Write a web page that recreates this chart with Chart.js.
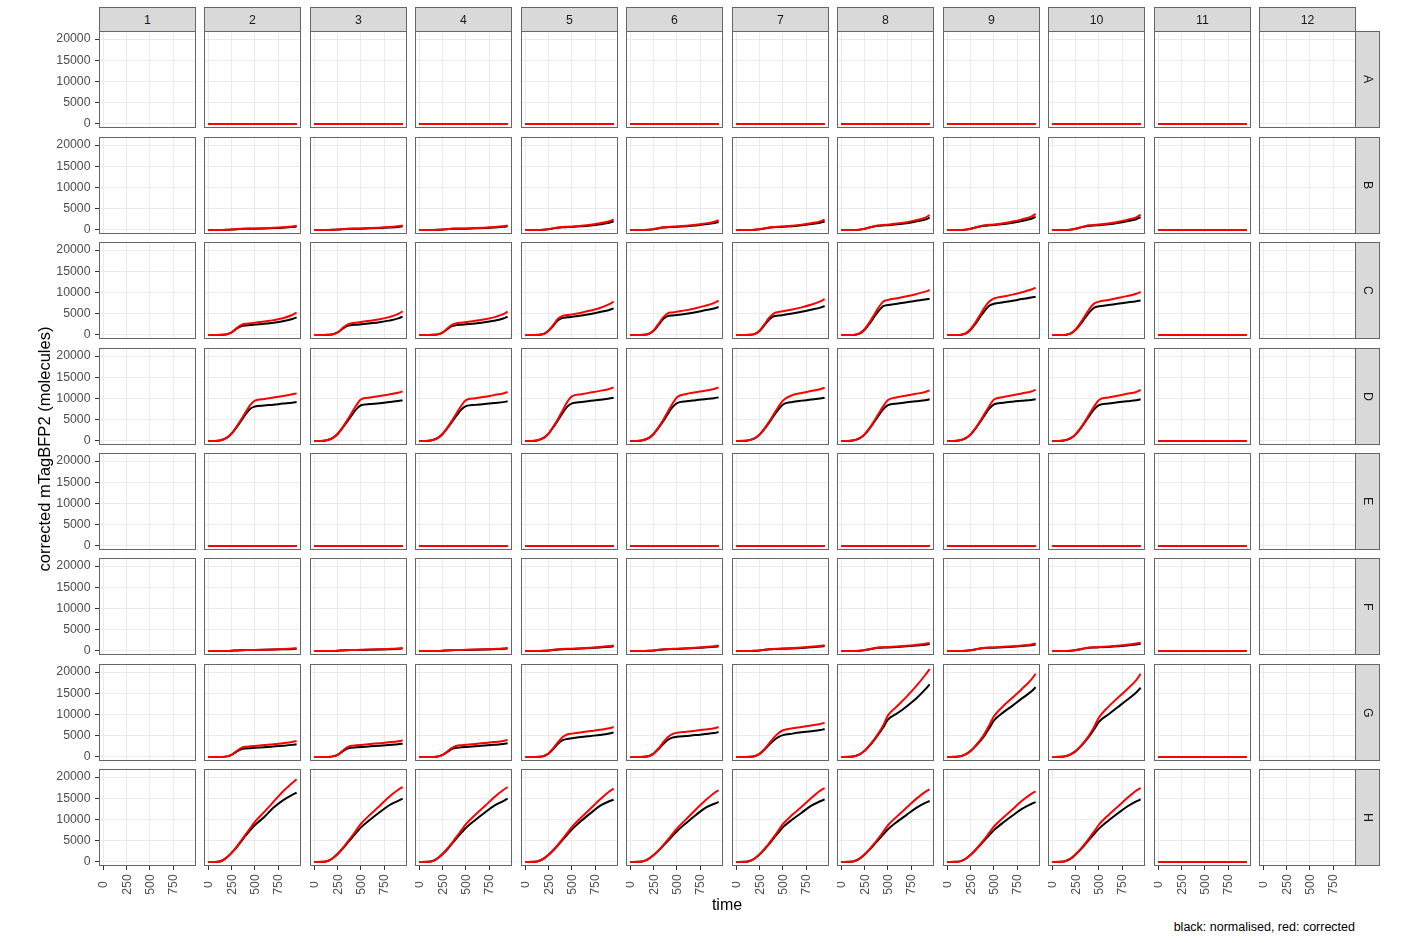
<!DOCTYPE html>
<html>
<head>
<meta charset="utf-8">
<script src="https://cdn.jsdelivr.net/npm/chart.js@4.4.1/dist/chart.umd.min.js"></script>
<style>
  body { margin: 0; background: #fff; width: 1416px; height: 943px; position: relative; overflow: hidden;
         font-family: "Liberation Sans", Arial, sans-serif; }
  canvas { position: absolute; }
  .strip { position: absolute; box-sizing: border-box; background: #D9D9D9; border: 1px solid #666;
           color: #1A1A1A; font-size: 12.3px; display: flex; align-items: center; justify-content: center; }
  .strip.row span { writing-mode: vertical-rl; }
  .label { position: absolute; color: #000; white-space: nowrap; z-index: 2; }
</style>
</head>
<body>
<script>
// time points (x) shared by every well
const times = [0, 100, 150, 200, 250, 300, 350, 400, 450, 500, 600, 700, 800, 900, 947];
const colLabels = ['1', '2', '3', '4', '5', '6', '7', '8', '9', '10', '11', '12'];
const rowLabels = ['A', 'B', 'C', 'D', 'E', 'F', 'G', 'H'];
const timeTicks = [0, 250, 500, 750];
const valueTicks = [0, 5000, 10000, 15000, 20000];

// wells that stay at the baseline
const flatNormalised = [0, 0, 0, 0, 0, 0, 0, 0, 0, 0, 0, 0, 0, 0, 0];
const flatCorrected = [0, 0, 0, 0, 0, 0, 0, 0, 0, 0, 0, 0, 0, 0, 0];

// one entry per column 1..12 (null = empty well)
const normA = [null, flatNormalised, flatNormalised, flatNormalised, flatNormalised, flatNormalised,
  flatNormalised, flatNormalised, flatNormalised, flatNormalised, flatNormalised, null];
const corrA = [null, flatCorrected, flatCorrected, flatCorrected, flatCorrected, flatCorrected,
  flatCorrected, flatCorrected, flatCorrected, flatCorrected, flatCorrected, null];

const normB = [null,
  [0, 0, 5, 28, 90, 180, 250, 275, 290, 305, 360, 440, 540, 690, 800],
  [0, 0, 5, 28, 90, 190, 260, 285, 300, 320, 380, 460, 570, 730, 870],
  [0, 0, 5, 28, 90, 190, 265, 290, 305, 320, 385, 470, 580, 740, 880],
  [0, 0, 10, 55, 185, 380, 540, 630, 680, 730, 880, 1080, 1360, 1720, 2050],
  [0, 0, 10, 55, 185, 390, 560, 650, 700, 750, 880, 1060, 1320, 1640, 1900],
  [0, 0, 10, 50, 175, 370, 550, 650, 710, 760, 900, 1100, 1380, 1720, 2000],
  [0, 0, 15, 85, 280, 580, 830, 980, 1060, 1120, 1320, 1600, 1980, 2450, 2900],
  [0, 0, 15, 85, 280, 580, 840, 1010, 1100, 1170, 1390, 1710, 2130, 2640, 3100],
  [0, 0, 15, 85, 280, 580, 840, 1000, 1080, 1140, 1350, 1650, 2050, 2530, 3000],
  flatNormalised, null];
const corrB = [null,
  [0, 0, 5, 30, 100, 200, 280, 310, 330, 350, 420, 520, 650, 840, 1000],
  [0, 0, 5, 30, 100, 210, 290, 320, 340, 365, 440, 540, 680, 880, 1050],
  [0, 0, 5, 30, 100, 210, 300, 330, 350, 370, 440, 550, 690, 890, 1050],
  [0, 0, 10, 60, 200, 420, 600, 700, 760, 820, 1000, 1250, 1600, 2050, 2500],
  [0, 0, 10, 60, 200, 420, 620, 720, 780, 840, 1000, 1220, 1530, 1920, 2300],
  [0, 0, 10, 55, 190, 400, 600, 720, 790, 850, 1020, 1260, 1600, 2020, 2450],
  [0, 0, 15, 90, 300, 620, 900, 1080, 1180, 1250, 1500, 1850, 2300, 2900, 3500],
  [0, 0, 15, 90, 300, 620, 900, 1100, 1220, 1300, 1580, 1980, 2500, 3150, 3800],
  [0, 0, 15, 90, 300, 620, 900, 1100, 1200, 1270, 1530, 1900, 2380, 2980, 3600],
  flatCorrected, null];

const normC = [null,
  [0, 0, 30, 170, 600, 1400, 2050, 2260, 2340, 2450, 2650, 2900, 3250, 3750, 4150],
  [0, 0, 30, 160, 590, 1420, 2100, 2330, 2420, 2530, 2750, 3000, 3380, 3900, 4310],
  [0, 0, 30, 150, 570, 1390, 2080, 2320, 2410, 2520, 2730, 2980, 3360, 3880, 4310],
  [0, 0, 40, 280, 980, 2200, 3450, 4020, 4150, 4280, 4600, 4950, 5400, 5900, 6270],
  [0, 0, 40, 280, 1000, 2300, 3700, 4450, 4580, 4700, 5000, 5350, 5800, 6250, 6590],
  [0, 0, 40, 260, 960, 2250, 3600, 4400, 4560, 4700, 5050, 5450, 5950, 6450, 6820],
  [0, 0, 70, 400, 1250, 2600, 4200, 5700, 6800, 7050, 7350, 7700, 8050, 8350, 8550],
  [0, 0, 70, 400, 1250, 2600, 4200, 5700, 6900, 7350, 7700, 8050, 8450, 8800, 9020],
  [0, 0, 70, 380, 1200, 2500, 4000, 5450, 6450, 6750, 7050, 7350, 7650, 7950, 8150],
  flatNormalised, null];
const corrC = [null,
  [0, 0, 30, 180, 650, 1560, 2340, 2650, 2760, 2900, 3180, 3500, 3950, 4700, 5250],
  [0, 0, 30, 170, 640, 1560, 2400, 2780, 2900, 3050, 3350, 3700, 4200, 4950, 5570],
  [0, 0, 30, 160, 620, 1520, 2380, 2780, 2900, 3040, 3330, 3680, 4150, 4900, 5490],
  [0, 0, 40, 300, 1050, 2400, 3800, 4500, 4680, 4850, 5250, 5750, 6350, 7250, 7840],
  [0, 0, 40, 300, 1100, 2550, 4100, 5100, 5300, 5480, 5850, 6300, 6850, 7550, 8080],
  [0, 0, 40, 280, 1050, 2500, 4000, 5050, 5400, 5580, 6000, 6500, 7100, 7900, 8470],
  [0, 0, 80, 450, 1400, 2900, 4700, 6500, 7900, 8250, 8650, 9100, 9600, 10200, 10580],
  [0, 0, 80, 450, 1400, 2900, 4700, 6500, 7900, 8600, 9050, 9500, 10050, 10700, 11130],
  [0, 0, 80, 430, 1350, 2800, 4500, 6200, 7450, 7850, 8250, 8700, 9150, 9700, 10110],
  flatCorrected, null];

const normD = [null,
  [0, 60, 300, 780, 1750, 3150, 4700, 6300, 7600, 8100, 8350, 8550, 8800, 9000, 9170],
  [0, 50, 280, 730, 1650, 3000, 4500, 6000, 7500, 8400, 8700, 8900, 9150, 9400, 9560],
  [0, 50, 280, 730, 1650, 3000, 4500, 6000, 7400, 8200, 8500, 8700, 8950, 9150, 9330],
  [0, 50, 300, 780, 1750, 3250, 4900, 6600, 8100, 8850, 9200, 9450, 9700, 9980, 10190],
  [0, 50, 280, 730, 1650, 3050, 4600, 6300, 7900, 8900, 9350, 9600, 9850, 10080, 10270],
  [0, 50, 260, 680, 1500, 2800, 4250, 5900, 7400, 8600, 9200, 9500, 9750, 10000, 10190],
  [0, 50, 270, 700, 1550, 2850, 4400, 6000, 7500, 8450, 8850, 9100, 9350, 9600, 9800],
  [0, 50, 270, 700, 1550, 2850, 4400, 6050, 7600, 8600, 9000, 9250, 9450, 9650, 9800],
  [0, 50, 270, 700, 1550, 2850, 4400, 6000, 7500, 8450, 8850, 9100, 9350, 9600, 9800],
  flatNormalised, null];
const corrD = [null,
  [0, 60, 300, 800, 1800, 3300, 5000, 6800, 8500, 9500, 9900, 10250, 10600, 11000, 11210],
  [0, 50, 280, 750, 1700, 3150, 4800, 6600, 8400, 9800, 10250, 10600, 10950, 11350, 11680],
  [0, 50, 280, 750, 1700, 3150, 4800, 6600, 8300, 9600, 10050, 10400, 10800, 11200, 11520],
  [0, 50, 300, 800, 1800, 3400, 5200, 7200, 9200, 10500, 11000, 11400, 11800, 12250, 12620],
  [0, 50, 280, 750, 1700, 3200, 4900, 6800, 8700, 10300, 11050, 11450, 11850, 12250, 12620],
  [0, 50, 260, 700, 1550, 2900, 4500, 6300, 8000, 9500, 10800, 11300, 11750, 12200, 12540],
  [0, 50, 270, 720, 1600, 3000, 4650, 6450, 8200, 9650, 10300, 10700, 11100, 11550, 11920],
  [0, 50, 270, 720, 1600, 3000, 4650, 6450, 8250, 9750, 10350, 10750, 11200, 11650, 12070],
  [0, 50, 270, 720, 1600, 3000, 4650, 6450, 8200, 9650, 10250, 10650, 11100, 11550, 12000],
  flatCorrected, null];

const normE = [null, flatNormalised, flatNormalised, flatNormalised, flatNormalised, flatNormalised,
  flatNormalised, flatNormalised, flatNormalised, flatNormalised, flatNormalised, null];
const corrE = [null, flatCorrected, flatCorrected, flatCorrected, flatCorrected, flatCorrected,
  flatCorrected, flatCorrected, flatCorrected, flatCorrected, flatCorrected, null];

const normF = [null,
  [0, 0, 5, 18, 65, 130, 185, 210, 220, 235, 275, 325, 390, 480, 550],
  [0, 0, 5, 20, 70, 140, 195, 220, 235, 250, 290, 345, 415, 510, 580],
  [0, 0, 5, 20, 70, 140, 195, 225, 240, 255, 295, 350, 425, 520, 600],
  [0, 0, 8, 38, 120, 250, 370, 430, 465, 495, 580, 690, 830, 990, 1100],
  [0, 0, 8, 36, 115, 245, 365, 425, 460, 490, 570, 680, 820, 975, 1090],
  [0, 0, 8, 38, 125, 260, 385, 450, 485, 515, 605, 720, 870, 1040, 1150],
  [0, 0, 10, 55, 190, 400, 610, 740, 800, 840, 950, 1090, 1270, 1490, 1650],
  [0, 0, 10, 50, 175, 370, 565, 690, 745, 785, 880, 1000, 1160, 1360, 1550],
  [0, 0, 10, 55, 195, 405, 615, 750, 810, 850, 965, 1110, 1300, 1520, 1680],
  flatNormalised, null];
const corrF = [null,
  [0, 0, 5, 20, 70, 140, 200, 230, 245, 260, 310, 370, 450, 560, 650],
  [0, 0, 5, 22, 75, 150, 215, 245, 260, 280, 330, 400, 490, 600, 700],
  [0, 0, 5, 22, 75, 150, 215, 245, 260, 280, 330, 400, 490, 600, 700],
  [0, 0, 8, 40, 130, 270, 400, 470, 510, 550, 650, 780, 950, 1150, 1300],
  [0, 0, 8, 38, 125, 265, 395, 465, 505, 540, 640, 770, 940, 1140, 1290],
  [0, 0, 8, 40, 135, 280, 420, 490, 530, 570, 680, 810, 990, 1190, 1350],
  [0, 0, 10, 60, 200, 420, 650, 800, 870, 920, 1050, 1220, 1430, 1700, 1900],
  [0, 0, 10, 55, 185, 390, 600, 740, 800, 850, 970, 1120, 1310, 1550, 1750],
  [0, 0, 10, 60, 205, 430, 660, 810, 880, 930, 1070, 1250, 1470, 1740, 1950],
  flatCorrected, null];

const normG = [null,
  [0, 0, 20, 140, 500, 1200, 1800, 2000, 2080, 2160, 2320, 2480, 2650, 2850, 2980],
  [0, 0, 20, 140, 520, 1250, 1950, 2200, 2280, 2360, 2500, 2650, 2820, 3000, 3140],
  [0, 0, 20, 130, 480, 1180, 1900, 2200, 2280, 2360, 2520, 2680, 2860, 3060, 3210],
  [0, 0, 40, 230, 820, 1900, 3100, 3950, 4250, 4400, 4700, 4950, 5200, 5550, 5800],
  [0, 0, 40, 220, 780, 1800, 3000, 4000, 4550, 4750, 4950, 5150, 5400, 5650, 5880],
  [0, 0, 40, 210, 740, 1700, 2850, 3900, 4700, 5150, 5500, 5800, 6050, 6350, 6590],
  [0, 50, 250, 690, 1450, 2600, 3900, 5400, 7000, 8800, 10300, 11900, 13700, 15900, 17100],
  [0, 50, 250, 690, 1420, 2500, 3700, 5100, 6800, 8600, 10500, 12100, 13800, 15400, 16400],
  [0, 50, 250, 680, 1380, 2400, 3600, 5000, 6600, 8300, 10000, 11700, 13400, 15200, 16300],
  flatNormalised, null];
const corrG = [null,
  [0, 0, 20, 150, 550, 1350, 2100, 2400, 2500, 2600, 2800, 3000, 3250, 3550, 3760],
  [0, 0, 20, 150, 560, 1400, 2250, 2650, 2750, 2850, 3050, 3250, 3450, 3700, 3920],
  [0, 0, 20, 140, 520, 1300, 2150, 2650, 2760, 2860, 3060, 3280, 3500, 3770, 4000],
  [0, 0, 40, 250, 900, 2100, 3500, 4700, 5300, 5500, 5800, 6100, 6400, 6750, 7060],
  [0, 0, 40, 240, 850, 2000, 3400, 4650, 5400, 5700, 5950, 6200, 6450, 6750, 7060],
  [0, 0, 40, 230, 800, 1850, 3150, 4500, 5600, 6300, 6750, 7050, 7400, 7750, 8080],
  [0, 50, 250, 700, 1500, 2700, 4100, 5700, 7500, 9800, 12000, 14200, 16600, 19300, 20700],
  [0, 50, 250, 700, 1450, 2600, 3900, 5500, 7500, 9600, 12000, 14000, 16000, 18200, 19600],
  [0, 50, 250, 700, 1400, 2500, 3800, 5300, 7200, 9300, 11800, 13900, 15900, 18100, 19600],
  flatCorrected, null];

const normH = [null,
  [0, 50, 350, 1100, 2150, 3400, 4800, 6200, 7500, 8700, 10600, 12800, 14500, 15800, 16300],
  [0, 40, 300, 940, 1900, 3050, 4350, 5650, 6900, 8150, 10000, 11700, 13300, 14400, 14900],
  [0, 40, 300, 930, 1880, 3000, 4300, 5600, 6850, 8050, 9900, 11600, 13200, 14350, 14900],
  [0, 40, 280, 840, 1720, 2780, 3950, 5200, 6450, 7700, 9700, 11500, 13200, 14300, 14660],
  [0, 40, 260, 790, 1620, 2620, 3750, 4950, 6100, 7250, 9200, 11000, 12700, 13700, 14110],
  [0, 40, 290, 890, 1820, 2950, 4200, 5550, 6900, 8200, 10000, 11600, 13200, 14300, 14740],
  [0, 40, 280, 860, 1760, 2850, 4050, 5300, 6500, 7700, 9500, 11100, 12700, 13900, 14350],
  [0, 40, 270, 820, 1690, 2750, 3950, 5150, 6350, 7500, 9300, 10950, 12500, 13650, 14110],
  [0, 40, 280, 860, 1770, 2870, 4100, 5400, 6650, 7850, 9700, 11400, 13000, 14250, 14740],
  flatNormalised, null];
const corrH = [null,
  [0, 50, 350, 1100, 2200, 3500, 5000, 6500, 8000, 9500, 11800, 14200, 16600, 18600, 19500],
  [0, 40, 300, 950, 1950, 3150, 4550, 6000, 7500, 9000, 11200, 13200, 15300, 17000, 17640],
  [0, 40, 300, 950, 1950, 3150, 4500, 5950, 7450, 8900, 11100, 13100, 15200, 16950, 17640],
  [0, 40, 280, 850, 1750, 2850, 4100, 5450, 6850, 8250, 10500, 12600, 14700, 16600, 17250],
  [0, 40, 260, 800, 1650, 2700, 3900, 5200, 6550, 7900, 10100, 12300, 14400, 16250, 16860],
  [0, 40, 290, 900, 1850, 3050, 4400, 5850, 7400, 8950, 11100, 13000, 15000, 16800, 17400],
  [0, 40, 280, 870, 1800, 2950, 4250, 5650, 7150, 8650, 10800, 12800, 14800, 16500, 17090],
  [0, 40, 270, 830, 1720, 2820, 4100, 5450, 6900, 8350, 10450, 12400, 14400, 16050, 16620],
  [0, 40, 280, 870, 1800, 2950, 4300, 5750, 7250, 8800, 11000, 13000, 15000, 16800, 17400],
  flatCorrected, null];

const normalised = [normA, normB, normC, normD, normE, normF, normG, normH];
const corrected = [corrA, corrB, corrC, corrD, corrE, corrF, corrG, corrH];

// layout of the facet grid (page pixels)
const PANEL = 97;
const colLeft = c => Math.round(99 + c * 105.45);
const rowTop = r => Math.round(31.3 + r * 105.43);
const X_MIN = -47, X_MAX = 994;
const Y_MIN = -945, Y_MAX = 21890;
const FONT = '"Liberation Sans", Arial, sans-serif';
const TICK_COLOR = '#4D4D4D';
const TICK_SIZE = 12.3;

Chart.defaults.font.family = FONT;
Chart.defaults.font.size = TICK_SIZE;

const panelBorder = {
  id: 'panelBorder',
  afterDraw(chart) {
    const a = chart.chartArea, ctx = chart.ctx;
    ctx.save();
    ctx.strokeStyle = '#666';
    ctx.lineWidth = 1;
    ctx.strokeRect(a.left + 0.5, a.top + 0.5, a.width - 1, a.height - 1);
    ctx.restore();
  }
};

// rotated, centred time labels under the bottom row
const timeLabels = {
  id: 'timeLabels',
  afterDraw(chart) {
    const ctx = chart.ctx, xs = chart.scales.x;
    ctx.save();
    ctx.font = TICK_SIZE + 'px ' + FONT;
    ctx.fillStyle = TICK_COLOR;
    ctx.textAlign = 'center';
    ctx.textBaseline = 'middle';
    timeTicks.forEach(v => {
      ctx.save();
      ctx.translate(xs.getPixelForValue(v) + 0.5, chart.chartArea.bottom + 18.5);
      ctx.rotate(-Math.PI / 2);
      ctx.fillText(String(v), 0, 0);
      ctx.restore();
    });
    ctx.restore();
  }
};

function gridOpts(withTicks) {
  return { color: '#EBEBEB', lineWidth: 1, drawTicks: withTicks, tickLength: 4,
           tickColor: '#333333', tickWidth: 1 };
}

function makePanel(r, c) {
  const isLeft = c === 0;
  const isBottom = r === rowLabels.length - 1;
  const extraL = isLeft ? 60 : 0;
  const padT = isLeft ? 8 : 0;
  const padB = isLeft && !isBottom ? 8 : 0;
  const extraB = isBottom ? 40 : 0;

  const canvas = document.createElement('canvas');
  const w = PANEL + extraL, h = PANEL + padT + padB + extraB;
  canvas.width = w; canvas.height = h;
  canvas.style.width = w + 'px'; canvas.style.height = h + 'px';
  canvas.style.left = (colLeft(c) - extraL) + 'px';
  canvas.style.top = (rowTop(r) - padT) + 'px';
  document.body.appendChild(canvas);

  const norm = normalised[r][c], corr = corrected[r][c];
  const datasets = [];
  if (corr) {
    datasets.push({ label: 'corrected', data: times.map((t, i) => ({ x: t, y: corr[i] })),
      borderColor: '#FF0000', borderWidth: 2, pointRadius: 0, cubicInterpolationMode: 'monotone', order: 0 });
    datasets.push({ label: 'normalised', data: times.map((t, i) => ({ x: t, y: norm[i] })),
      borderColor: '#000000', borderWidth: 2, pointRadius: 0, cubicInterpolationMode: 'monotone', order: 1 });
  }

  new Chart(canvas, {
    type: 'line',
    data: { datasets },
    options: {
      responsive: false,
      animation: false,
      devicePixelRatio: 1,
      events: [],
      layout: { padding: { top: padT, bottom: padB, left: 0, right: 0 } },
      plugins: { legend: { display: false }, tooltip: { enabled: false } },
      scales: {
        x: {
          type: 'linear', bounds: 'data', min: X_MIN, max: X_MAX,
          afterBuildTicks: s => { s.ticks = timeTicks.map(v => ({ value: v })); },
          afterFit: s => { s.height = extraB; s.paddingLeft = 0; s.paddingRight = 0; },
          ticks: { display: false },
          grid: gridOpts(isBottom),
          border: { display: false }
        },
        y: {
          type: 'linear', bounds: 'data', min: Y_MIN, max: Y_MAX,
          afterBuildTicks: s => { s.ticks = valueTicks.map(v => ({ value: v })); },
          afterFit: s => { s.width = extraL; s.paddingTop = 0; s.paddingBottom = 0; },
          ticks: { display: isLeft, color: TICK_COLOR, padding: 4.5, autoSkip: false,
                   font: { size: TICK_SIZE }, callback: v => String(v) },
          grid: gridOpts(isLeft),
          border: { display: false }
        }
      }
    },
    plugins: isBottom ? [panelBorder, timeLabels] : [panelBorder]
  });
}

rowLabels.forEach((_, r) => colLabels.forEach((_, c) => makePanel(r, c)));

// column strips
colLabels.forEach((lab, c) => {
  const d = document.createElement('div');
  d.className = 'strip';
  d.style.left = colLeft(c) + 'px'; d.style.top = '7px';
  d.style.width = PANEL + 'px'; d.style.height = (rowTop(0) - 7 + 1) + 'px';
  d.textContent = lab;
  document.body.appendChild(d);
});
// row strips
rowLabels.forEach((lab, r) => {
  const d = document.createElement('div');
  d.className = 'strip row';
  const left = colLeft(colLabels.length - 1) + PANEL - 1;
  d.style.left = left + 'px'; d.style.top = rowTop(r) + 'px';
  d.style.width = (1380 - left) + 'px'; d.style.height = PANEL + 'px';
  const s = document.createElement('span');
  s.textContent = lab;
  d.appendChild(s);
  document.body.appendChild(d);
});

function addLabel(text, css) {
  const d = document.createElement('div');
  d.className = 'label';
  d.textContent = text;
  Object.assign(d.style, css);
  document.body.appendChild(d);
}
addLabel('time', { left: '627px', width: '200px', textAlign: 'center', top: '895px',
  fontSize: '16px', lineHeight: '20px' });
addLabel('corrected mTagBFP2 (molecules)', { left: '-106px', width: '300px', textAlign: 'center',
  top: '439px', fontSize: '16.5px', lineHeight: '20px', transform: 'rotate(-90deg)' });
addLabel('black: normalised, red: corrected', { right: '61px', top: '920px',
  fontSize: '12.5px', lineHeight: '15px' });
</script>
</body>
</html>
